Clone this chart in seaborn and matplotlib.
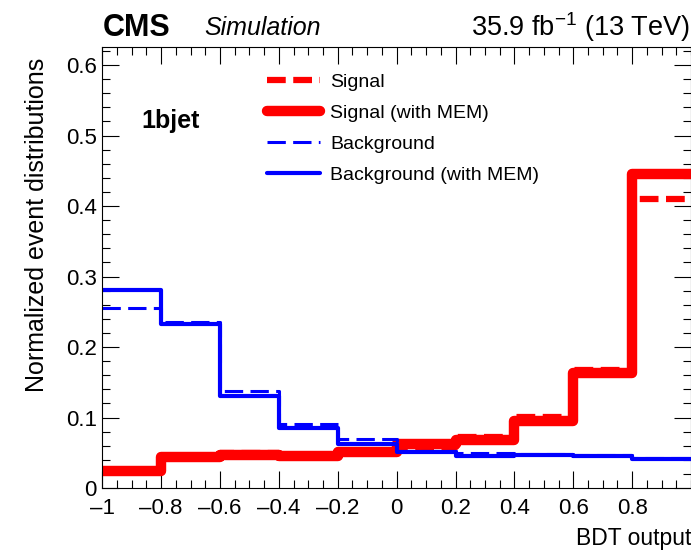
import numpy as np
import pandas as pd
import matplotlib
matplotlib.use("Agg")
import matplotlib.pyplot as plt
from matplotlib.ticker import MultipleLocator
import seaborn as sns

# BDT output binning and normalized contents
bin_edges = [-1.0, -0.8, -0.6, -0.4, -0.2, 0.0, 0.2, 0.4, 0.6, 0.8, 1.0]
signal = [0.024, 0.044, 0.049, 0.047, 0.052, 0.058, 0.073, 0.101, 0.168, 0.410]
signal_mem = [0.024, 0.044, 0.047, 0.046, 0.051, 0.062, 0.068, 0.095, 0.163, 0.446]
background = [0.256, 0.235, 0.137, 0.091, 0.070, 0.053, 0.049, 0.048, 0.047, 0.043]
background_mem = [0.281, 0.233, 0.131, 0.085, 0.063, 0.051, 0.046, 0.047, 0.046, 0.041]

series = [
    ("Signal", signal, "#ff0000", 4.5, (3.0, 1.2)),
    ("Signal (with MEM)", signal_mem, "#ff0000", 7.5, None),
    ("Background", background, "#0000ff", 2.2, (6.0, 2.4)),
    ("Background (with MEM)", background_mem, "#0000ff", 3.0, None),
]

sns.set_theme(style="ticks")
plt.rcParams["font.family"] = ["Liberation Sans", "DejaVu Sans"]
plt.rcParams["mathtext.fontset"] = "custom"
plt.rcParams["mathtext.rm"] = "Liberation Sans"
for k in ["text.color", "axes.labelcolor", "xtick.color", "ytick.color", "axes.edgecolor"]:
    plt.rcParams[k] = "black"

fig = plt.figure(figsize=(6.91, 5.51), dpi=100)
ax = fig.add_axes([0.148, 0.1143, 0.852, 0.801])

centers = [(a + b) / 2 for a, b in zip(bin_edges[:-1], bin_edges[1:])]
for label, vals, color, lw, dash in series:
    df = pd.DataFrame({"x": centers, "w": vals})
    kw = dict(color=color, linewidth=lw, label=label)
    if dash is not None:
        kw["dashes"] = dash
    sns.histplot(data=df, x="x", weights="w", bins=bin_edges, element="step",
                 fill=False, ax=ax, **kw)

ax.set_xlim(-1, 1)
ax.set_ylim(0, 0.626)
ax.xaxis.set_major_locator(MultipleLocator(0.2))
ax.xaxis.set_minor_locator(MultipleLocator(0.05))
ax.yaxis.set_major_locator(MultipleLocator(0.1))
ax.yaxis.set_minor_locator(MultipleLocator(0.02))
ax.tick_params(which="both", direction="in", top=True, right=True, labelsize=16,
               color="black", width=0.8)
ax.tick_params(which="major", length=12.5)
ax.tick_params(which="minor", length=6)
for s in ax.spines.values():
    s.set_linewidth(0.8)
    s.set_color("black")

def fmt(v):
    if abs(v) < 1e-9:
        return "0"
    t = f"{v:g}"
    return t.replace("-", "\u2013")

xt = [round(v, 1) for v in np.arange(-1.0, 0.81, 0.2)]
ax.set_xticks(xt)
ax.set_xticklabels([fmt(v) for v in xt])
yt = [round(v, 1) for v in np.arange(0, 0.61, 0.1)]
ax.set_yticks(yt)
ax.set_yticklabels([fmt(v) for v in yt])
ax.tick_params(axis="x", pad=7)
ax.tick_params(axis="y", pad=4)

ax.set_xlabel("BDT output", fontsize=16.5, loc="right", labelpad=6)
ax.set_ylabel("Normalized event distributions", fontsize=18, loc="top", labelpad=12)
ax.yaxis.label.set_y(0.975)

leg = ax.legend(loc="upper left", bbox_to_anchor=(0.25, 0.98), frameon=False,
                fontsize=14, handlelength=2.75, labelspacing=0.7, handletextpad=0.5)

ax.text(0.066, 0.815, "1bjet", transform=ax.transAxes, fontsize=18, fontweight="bold")

fig.text(0.148, 0.95, "CMS", fontsize=22, fontweight="bold", va="center")
fig.text(0.295, 0.95, "Simulation", fontsize=18, fontstyle="italic", va="center")
fig.text(0.999, 0.95, r"35.9 fb$^{-1}$ (13 TeV)", fontsize=19.5, ha="right", va="center")

fig.savefig("out.png", dpi=100)
